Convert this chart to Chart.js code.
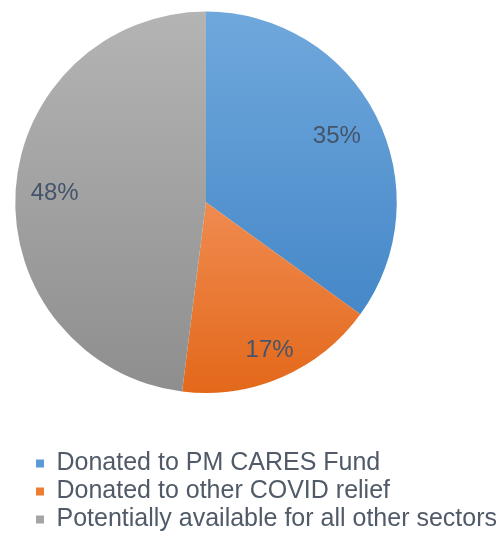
<!DOCTYPE html>
<html>
<head>
<meta charset="utf-8">
<script src="https://cdn.jsdelivr.net/npm/chart.js@4.4.1/dist/chart.umd.min.js"></script>
<style>
  html, body { margin: 0; padding: 0; background: #fff; }
  #wrap { width: 501px; height: 536px; }
</style>
</head>
<body>
<div id="wrap"><canvas id="grafica"></canvas></div>
<script>
// datos del grafico
const categorias = ['Donated to PM CARES Fund', 'Donated to other COVID relief', 'Potentially available for all other sectors'];
const porcentajes = [35, 17, 48];
const etiquetas = ['35%', '17%', '48%'];

// colores (arriba / abajo del degradado)
const coloresArriba = ['#70A8DC', '#FCAE86', '#B4B4B4'];
const coloresAbajo = ['#3A7FC3', '#E3681A', '#8E8E8E'];
const coloresLeyenda = ['#5B9BD5', '#ED7D31', '#A5A5A5'];

// relleno degradado vertical sobre todo el pastel
function relleno(ctx) {
  const area = ctx.chart.chartArea;
  const i = ctx.dataIndex;
  if (!area) return coloresLeyenda[i];
  const g = ctx.chart.ctx.createLinearGradient(0, area.top, 0, area.bottom);
  g.addColorStop(0, coloresArriba[i]);
  g.addColorStop(1, coloresAbajo[i]);
  return g;
}

// etiquetas de porcentaje dentro de cada rebanada
const pluginEtiquetas = {
  id: 'etiquetas',
  afterDatasetsDraw(chart, args, opts) {
    const { ctx } = chart;
    const arcs = chart.getDatasetMeta(0).data;
    ctx.save();
    ctx.font = '24px "Liberation Sans", Arial, sans-serif';
    ctx.fillStyle = '#44546A';
    ctx.textAlign = 'center';
    ctx.textBaseline = 'middle';
    arcs.forEach((arc, i) => {
      const { x, y, startAngle, endAngle, outerRadius } = arc.getProps(['x', 'y', 'startAngle', 'endAngle', 'outerRadius'], true);
      const medio = (startAngle + endAngle) / 2;
      const r = outerRadius * opts.radios[i];
      ctx.fillText(etiquetas[i], x + Math.cos(medio) * r, y + Math.sin(medio) * r + 1);
    });
    ctx.restore();
  }
};

// mover la leyenda un poco a la derecha (y ensancharla para que no se corte)
const pluginLeyenda = {
  id: 'moverLeyenda',
  afterLayout(chart, args, opts) {
    const leyenda = chart.legend;
    leyenda.left += opts.dx;
    leyenda.right = chart.width;
    leyenda.width = leyenda.right - leyenda.left;
  }
};

const ctx = document.getElementById('grafica').getContext('2d');
new Chart(ctx, {
  type: 'pie',
  data: {
    labels: categorias,
    datasets: [{
      data: porcentajes,
      backgroundColor: relleno,
      borderWidth: 0
    }]
  },
  plugins: [pluginEtiquetas, pluginLeyenda],
  options: {
    responsive: true,
    maintainAspectRatio: false,
    animation: false,
    layout: {
      padding: { top: 11.5, left: 15, right: 104, bottom: -6 }
    },
    plugins: {
      tooltip: { enabled: false },
      etiquetas: { radios: [0.77, 0.84, 0.795] },
      moverLeyenda: { dx: 18 },
      legend: {
        position: 'bottom',
        align: 'start',
        title: {
          display: true,
          text: '',
          font: { size: 10, lineHeight: 1 },
          padding: { top: 0, bottom: 45 }
        },
        labels: {
          boxWidth: 8,
          boxHeight: 8,
          padding: 3,
          color: '#505A68',
          font: { family: '"Liberation Sans", Arial, sans-serif', size: 25 },
          generateLabels(chart) {
            const items = Chart.overrides.pie.plugins.legend.labels.generateLabels(chart);
            items.forEach((it, i) => {
              it.fillStyle = coloresLeyenda[i];
              it.strokeStyle = coloresLeyenda[i];
              it.lineWidth = 0;
            });
            return items;
          }
        }
      }
    }
  }
});
</script>
</body>
</html>
